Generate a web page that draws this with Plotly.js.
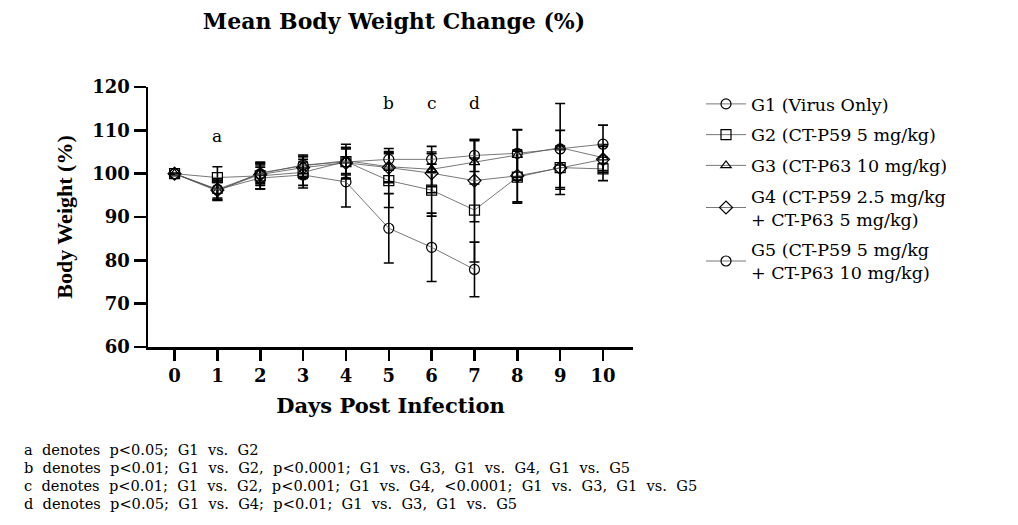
<!DOCTYPE html>
<html>
<head>
<meta charset="utf-8">
<script src="https://cdn.plot.ly/plotly-3.0.1.min.js"></script>
<style>html,body{margin:0;padding:0;background:#fff;}#chart{width:1018px;height:525px;}</style>
</head>
<body>
<div id="chart"></div>
<script>
// Days post infection
const days = [0, 1, 2, 3, 4, 5, 6, 7, 8, 9, 10];
const g1Days = [0, 1, 2, 3, 4, 5, 6, 7];

// Mean body weight (%) and error per group
const g1Mean = [100, 96.3, 99.0, 99.7, 98.1, 87.4, 83.0, 77.9];
const g1Err  = [0, 2.5, 2.5, 3.0, 5.8, 8.0, 7.9, 6.3];
const g2Mean = [100, 99.1, 99.5, 100.3, 102.8, 98.4, 96.2, 91.6, 99.2, 101.4, 101.1];
const g2Err  = [0, 2.5, 3.0, 3.0, 4.0, 6.2, 6.0, 12.0, 6.0, 5.0, 2.7];
const g3Mean = [100, 96.0, 100.2, 101.8, 103.0, 101.6, 101.0, 102.6, 104.3, 106.0, 103.7];
const g3Err  = [0, 2.0, 2.5, 2.5, 3.0, 3.5, 4.0, 5.0, 5.8, 4.0, 3.0];
const g4Mean = [100, 96.2, 99.8, 101.4, 102.5, 101.4, 100.1, 98.4, 99.5, 101.3, 103.3];
const g4Err  = [0, 2.2, 2.5, 2.5, 3.5, 3.5, 4.5, 9.5, 6.0, 4.5, 3.0];
const g5Mean = [100, 96.4, 100.0, 102.0, 102.7, 103.3, 103.3, 104.2, 104.7, 105.7, 106.8];
const g5Err  = [0, 2.0, 2.0, 2.0, 3.0, 2.5, 3.0, 3.7, 5.5, 10.5, 4.4];

const groupNames = [
  'G1 (Virus Only)',
  'G2 (CT-P59 5 mg/kg)',
  'G3 (CT-P63 10 mg/kg)',
  'G4 (CT-P59 2.5 mg/kg<br>+ CT-P63 5 mg/kg)',
  'G5 (CT-P59 5 mg/kg<br>+ CT-P63 10 mg/kg)'
];
const symbols = ['circle-open', 'square-open', 'triangle-up-open', 'diamond-open', 'circle-open'];

// Significance letters
const sigLetters = ['a', 'b', 'c', 'd'];
const sigDays = [1, 5, 6, 7];
const sigY = [108.7, 116.3, 116.3, 116.3];

const yTicks = [60, 70, 80, 90, 100, 110, 120];

const footnotes = [
  'a  denotes  p&lt;0.05;  G1  vs.  G2',
  'b  denotes  p&lt;0.01;  G1  vs.  G2,  p&lt;0.0001;  G1  vs.  G3,  G1  vs.  G4,  G1  vs.  G5',
  'c  denotes  p&lt;0.01;  G1  vs.  G2,  p&lt;0.001;  G1  vs.  G4,  &lt;0.0001;  G1  vs.  G3,  G1  vs.  G5',
  'd  denotes  p&lt;0.05;  G1  vs.  G4;  p&lt;0.01;  G1  vs.  G3,  G1  vs.  G5'
];

const serif = 'Liberation Serif, Times New Roman, serif';
const wide = 'DejaVu Serif, serif';
const series = [
  [g1Days, g1Mean, g1Err],
  [days, g2Mean, g2Err],
  [days, g3Mean, g3Err],
  [days, g4Mean, g4Err],
  [days, g5Mean, g5Err]
];

const traces = series.map((s, i) => ({
  x: s[0], y: s[1], type: 'scatter', mode: 'lines+markers',
  name: groupNames[i], legendgroup: 'g' + i,
  line: {color: '#555', width: 0.8},
  marker: {symbol: symbols[i], size: i === 2 ? 9 : 10, color: '#000', line: {color: '#000', width: 1.2}},
  error_y: {type: 'data', array: s[2], visible: true, color: '#000', thickness: 1.6, width: 5},
  cliponaxis: false
}));

const annotations = sigLetters.map((t, i) => ({
  x: sigDays[i], y: sigY[i], xref: 'x', yref: 'y', text: t, showarrow: false,
  font: {family: wide, size: 17, color: '#000'}
}));

const footY = [449, 467, 485, 503];
footnotes.forEach((t, i) => {
  annotations.push({
    x: (22 - 148) / 485, y: (347 - footY[i]) / 260, xref: 'paper', yref: 'paper',
    xanchor: 'left', yanchor: 'middle', text: t, showarrow: false, align: 'left',
    font: {family: wide, size: 14.6, color: '#000'}
  });
});

const layout = {
  width: 1018, height: 525,
  margin: {l: 148, r: 385, t: 87, b: 178},
  paper_bgcolor: '#fff', plot_bgcolor: '#fff',
  title: {text: '<b>Mean Body Weight Change (%)</b>', x: (394 - 148) / 485, xref: 'paper', xanchor: 'center',
          y: 1 - 21 / 525, yref: 'container', yanchor: 'middle',
          font: {family: wide, size: 22, color: '#000'}},
  xaxis: {
    range: [-0.62, 10.7], tickvals: days, ticks: 'outside', ticklen: 11, tickwidth: 2.5,
    tickcolor: '#000', showline: true, linecolor: '#000', linewidth: 2.5, showgrid: false,
    zeroline: false, tickfont: {family: wide, size: 18, color: '#000', weight: 'bold'},
    title: {text: '<b>Days Post Infection</b>', font: {family: wide, size: 21, color: '#000'}, standoff: 13}
  },
  yaxis: {
    range: [60, 120], tickvals: yTicks, ticks: 'outside', ticklen: 12, tickwidth: 2.5,
    tickcolor: '#000', showline: true, linecolor: '#000', linewidth: 2.5, showgrid: false,
    zeroline: false, tickfont: {family: wide, size: 18, color: '#000', weight: 'bold'},
    title: {text: '<b>Body Weight (%)</b>', font: {family: serif, size: 22, color: '#000'}, standoff: 14}
  },
  showlegend: true,
  legend: {x: (701 - 148) / 485, y: 1 - (86 - 87) / 260, xanchor: 'left', yanchor: 'top',
           itemwidth: 40,
           font: {family: wide, size: 17.5, color: '#000'}, tracegroupgap: 5, bgcolor: 'rgba(0,0,0,0)'},
  annotations: annotations
};

Plotly.newPlot('chart', traces, layout, {displayModeBar: false, staticPlot: true});
</script>
</body>
</html>
